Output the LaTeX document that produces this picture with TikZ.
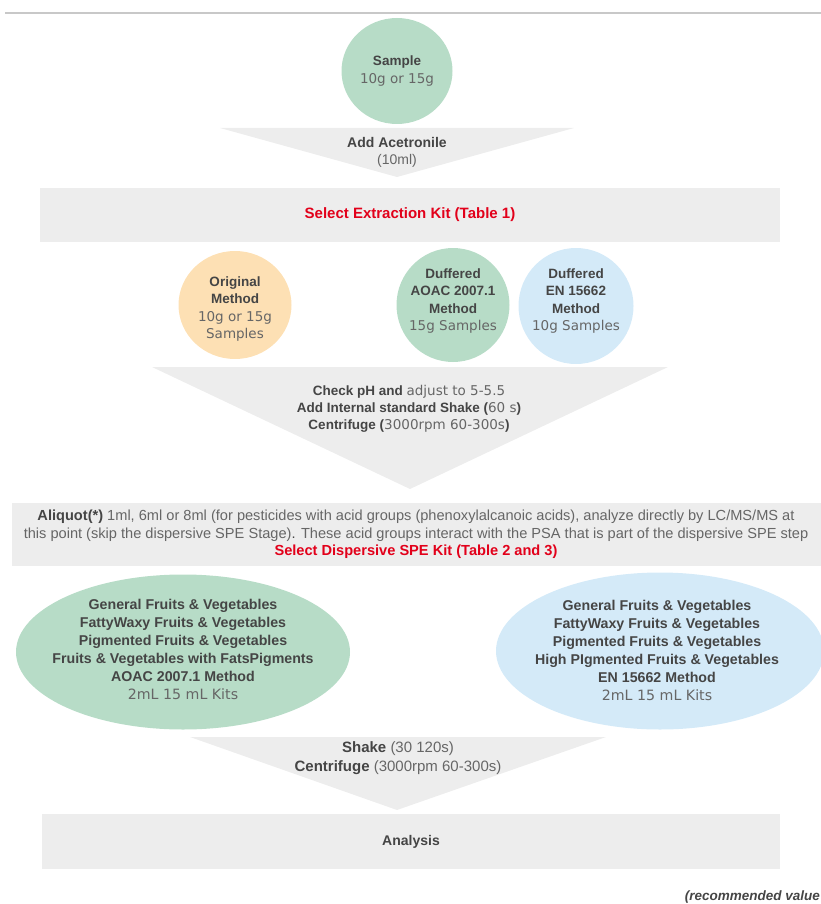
\documentclass[tikz,border=0pt]{standalone}
\usepackage{fontspec}
\setmainfont{Liberation Sans}
\newfontfamily\widefont{DejaVu Sans}
\usetikzlibrary{shapes.geometric,positioning}
\definecolor{sagegreen}{HTML}{B7DCC7}
\definecolor{peach}{HTML}{FDE0B4}
\definecolor{skyblue}{HTML}{D4EAF8}
\definecolor{panelgray}{HTML}{EDEDED}
\definecolor{rulegray}{HTML}{C8C8C8}
\definecolor{txtdark}{HTML}{454545}
\definecolor{txtlite}{HTML}{666666}
\definecolor{kitred}{HTML}{E2001A}
\newcommand{\lite}[1]{{\mdseries\widefont\color{txtlite}#1}}
\newcommand{\thin}[1]{{\mdseries\color{txtlite}#1}}

\begin{document}
\begin{tikzpicture}[x=1pt, y=-1pt,
  blob/.style={ellipse, inner sep=0pt},
  blobtext/.style={align=center, inner sep=0pt, text=txtdark,
    font=\bfseries\fontsize{13.5}{17.5}\selectfont},
  panel/.style={rectangle, fill=panelgray, inner sep=0pt, align=center},
  steptext/.style={align=center, inner sep=0pt, text=txtdark,
    font=\bfseries\fontsize{14}{17}\selectfont}]
  \useasboundingbox (0,0) rectangle (821,904);
  % Rule on top
  \draw[rulegray, line width=1.2pt] (5,13) -- (821,13);
  % Sample
  \node[blob, fill=sagegreen, minimum width=111, minimum height=106] (sample) at (397,71) {};
  \node[blobtext] (sampletext) at (sample) {Sample\\\lite{10g or 15g}};
  % Acetonitrile funnel
  \fill[panelgray] (220,128) -- (574,128) -- (397,177) -- cycle;
  \node[steptext] (acetro) at (397,152) {Add Acetronile\\\thin{(10ml)}};
  % Extraction kit
  \node[panel, minimum width=740, minimum height=54] (extract) at (410,215)
    {\bfseries\fontsize{15}{17}\selectfont\color{kitred}Select Extraction Kit (Table 1)};
  % Three methods
  \node[blob, fill=peach, minimum width=113, minimum height=108] (orig) at (235,305) {};
  \node[blobtext] (origtext) at (235,309) {Original\\Method\\\lite{10g or 15g}\\\lite{Samples}};
  \node[blob, fill=sagegreen, minimum width=113, minimum height=114] (aoac) at (453,305) {};
  \node[blobtext] (aoactext) at (453,301) {Duffered\\AOAC 2007.1\\Method\\\lite{15g Samples}};
  \node[blob, fill=skyblue, minimum width=115, minimum height=116] (en) at (576,306) {};
  \node[blobtext] (entext) at (576,301) {Duffered\\EN 15662\\Method\\\lite{10g Samples}};
  % pH funnel
  \fill[panelgray] (152,367) -- (668,367) -- (410,489) -- cycle;
  \node[steptext, font=\bfseries\fontsize{13.5}{17}\selectfont] (phstep) at (409,409)
    {Check pH and \lite{adjust to 5-5.5}\\
     Add Internal standard Shake (\lite{60 s})\\
     Centrifuge (\lite{3000rpm 60-300s})};
  % Aliquot
  \node[panel, minimum width=809, minimum height=63, text=txtdark,
    font=\fontsize{14.6}{17.5}\selectfont] (aliquot) at (416,534.5)
    {\textbf{Aliquot(*)} \thin{1ml, 6ml or 8ml (for pesticides with acid groups (phenoxylalcanoic acids), analyze directly by LC/MS/MS at}\\
     \thin{this point (skip the dispersive SPE Stage)}. \thin{These acid groups interact with the PSA that is part of the dispersive SPE step}\\
     \textbf{\color{kitred}Select Dispersive SPE Kit (Table 2 and 3)}};
  % Dispersive SPE kits
  \node[blob, fill=sagegreen, minimum width=334, minimum height=155] (kitaoac) at (183,652) {};
  \node[blobtext, font=\bfseries\fontsize{14.2}{18}\selectfont] (kitaoactext) at (183,649)
    {General Fruits \& Vegetables\\FattyWaxy Fruits \& Vegetables\\
     Pigmented Fruits \& Vegetables\\Fruits \& Vegetables with FatsPigments\\
     AOAC 2007.1 Method\\\lite{2mL 15 mL Kits}};
  \node[blob, fill=skyblue, minimum width=328, minimum height=157] (kiten) at (660,651) {};
  \node[blobtext, font=\bfseries\fontsize{14.2}{18}\selectfont] (kitentext) at (657,650)
    {General Fruits \& Vegetables\\FattyWaxy Fruits \& Vegetables\\
     Pigmented Fruits \& Vegetables\\High PIgmented Fruits \& Vegetables\\
     EN 15662 Method\\\lite{2mL 15 mL Kits}};
  % Shake funnel
  \fill[panelgray] (190,737) -- (606,737) -- (397,810) -- cycle;
  \node[steptext, font=\bfseries\fontsize{15}{19}\selectfont] (shake) at (398,758.5)
    {Shake \thin{(30 120s)}\\Centrifuge \thin{(3000rpm 60-300s)}};
  % Analysis
  \node[panel, minimum width=738, minimum height=55, text=txtdark,
    font=\bfseries\fontsize{14}{17}\selectfont] (analysis) at (411,841.5) {Analysis};
  % Footnote
  \node[anchor=east, inner sep=0pt, text=txtdark,
    font=\bfseries\itshape\fontsize{13.5}{17}\selectfont] (note) at (820,897) {(recommended value};
\end{tikzpicture}
\end{document}
